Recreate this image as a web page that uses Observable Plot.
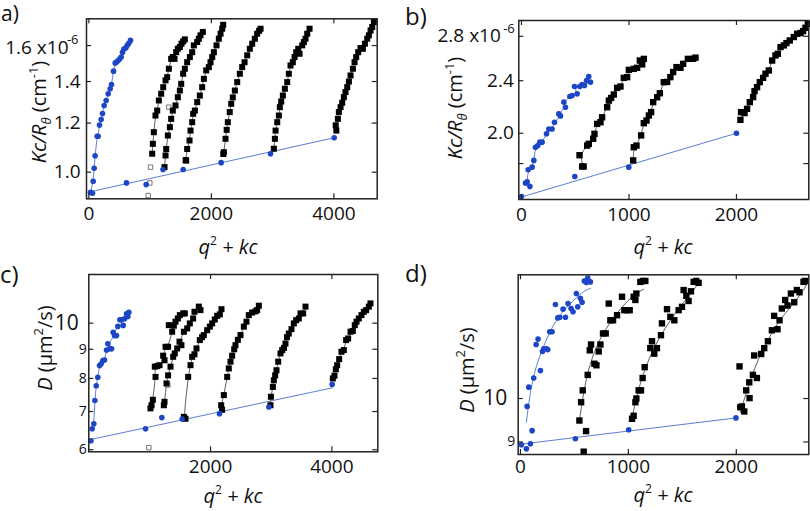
<!DOCTYPE html>
<html><head><meta charset="utf-8">
<script src="https://cdn.jsdelivr.net/npm/d3@7"></script>
<script src="https://cdn.jsdelivr.net/npm/@observablehq/plot@0.6"></script>
<style>
body{margin:0;background:#fff;}
#fig{position:relative;width:810px;height:511px;overflow:hidden;background:#fff;}
#fig svg{position:absolute;}
</style></head><body><div id="fig"></div>
<script>
// ---------- Panel a : Kc/R vs q^2+kc ----------
const aBlue = [[27,0.928],[60,0.925],[71,0.967],[87,1.015],[103,1.063],[136,1.143],[152,1.143],[174,1.191],[201,1.216],[223,1.243],[250,1.281],[283,1.305],[316,1.338],[348,1.363],[370,1.385],[403,1.455],[430,1.499],[452,1.505],[479,1.514],[506,1.523],[528,1.533],[550,1.560],[572,1.579],[604,1.585],[626,1.601],[653,1.614],[680,1.631]];
const aExtrap = [[615,0.961],[936,0.955],[1211,1.010],[1540,1.010],[2160,1.036],[2966,1.071],[4005,1.136]];
const aFitLine = [[0,0.929],[4000,1.136]];
const aHollow = [[969,0.917],[996,0.961],[1007,1.019],[1306,1.273]];
const aS1 = [[1034,1.071],[1045,1.111],[1061,1.160],[1088,1.234],[1116,1.257],[1143,1.305],[1181,1.338],[1214,1.371],[1252,1.406],[1279,1.423],[1306,1.468],[1344,1.523],[1371,1.533],[1399,1.523],[1426,1.561],[1453,1.581],[1486,1.591],[1513,1.611],[1540,1.625],[1567,1.637]];
const aS2 = [[1235,1.019],[1252,1.064],[1263,1.090],[1290,1.146],[1323,1.182],[1344,1.219],[1371,1.257],[1415,1.281],[1453,1.321],[1486,1.354],[1508,1.388],[1540,1.441],[1567,1.468],[1605,1.504],[1649,1.533],[1687,1.561],[1714,1.601],[1769,1.621],[1796,1.641],[1823,1.662],[1861,1.683]];
const aS3 = [[1580,1.046],[1589,1.044],[1605,1.090],[1644,1.125],[1660,1.167],[1687,1.204],[1703,1.242],[1731,1.257],[1769,1.297],[1812,1.329],[1850,1.371],[1878,1.414],[1916,1.459],[1959,1.477],[1986,1.504],[2014,1.533],[2041,1.561],[2084,1.601],[2122,1.641],[2150,1.672],[2177,1.703],[2193,1.728]];
const aS4 = [[2195,1.070],[2204,1.077],[2231,1.132],[2250,1.170],[2269,1.204],[2300,1.250],[2324,1.289],[2350,1.320],[2384,1.354],[2422,1.397],[2465,1.441],[2503,1.477],[2542,1.504],[2585,1.543],[2628,1.581],[2667,1.611],[2710,1.641],[2748,1.672],[2780,1.690],[2803,1.703]];
const aS5 = [[3020,1.091],[3037,1.132],[3048,1.167],[3075,1.204],[3102,1.234],[3118,1.273],[3140,1.300],[3167,1.329],[3200,1.363],[3238,1.397],[3265,1.441],[3292,1.486],[3330,1.504],[3358,1.533],[3385,1.561],[3418,1.581],[3440,1.552],[3483,1.601],[3510,1.621],[3537,1.641],[3565,1.672],[3603,1.703]];
const aS6 = [[4040,1.167],[4030,1.190],[4065,1.219],[4081,1.250],[4109,1.273],[4136,1.294],[4163,1.321],[4190,1.346],[4218,1.371],[4245,1.400],[4272,1.432],[4310,1.468],[4337,1.504],[4364,1.533],[4397,1.561],[4435,1.585],[4473,1.581],[4506,1.611],[4544,1.641],[4571,1.662],[4599,1.692],[4626,1.714],[4653,1.746]];
const aTicksX = [0,2000,4000];
const aTicksY = [1.0,1.2,1.4,1.6];
const aLabelsY = ["1.0","1.2","1.4"];
const aTopLabel = "1.6 x10", aTopExp = "-6";

// ---------- Panel b ----------
const bBlue = [[37,1.682],[53,1.690],[62,1.762],[78,1.663],[99,1.778],[115,1.820],[130,1.905],[152,1.916],[171,1.939],[192,1.939],[233,1.996],[254,2.030],[285,2.030],[307,2.078],[347,2.139],[363,2.124],[394,2.228],[409,2.189],[450,2.272],[471,2.280],[493,2.352],[518,2.293],[543,2.352],[564,2.368],[586,2.360],[605,2.401],[626,2.435],[642,2.388]];
const bExtrap = [[0,1.605],[496,1.721],[998,1.778],[2000,2.0]];
const bFitLine = [[0,1.603],[2000,2.0]];
const bS1 = [[565,1.782],[578,1.782],[540,1.853],[611,1.916],[626,1.928],[667,1.962],[679,1.996],[704,2.066],[735,2.078],[750,2.114],[797,2.189],[813,2.240],[834,2.261],[859,2.288],[890,2.341],[921,2.352],[952,2.424],[983,2.430],[999,2.492],[1045,2.501],[1076,2.510],[1101,2.574],[1123,2.540],[1138,2.589]];
const bS2 = [[1039,1.820],[1045,1.905],[1070,1.916],[1113,1.985],[1138,2.071],[1163,2.090],[1185,2.127],[1206,2.152],[1225,2.228],[1262,2.266],[1287,2.298],[1324,2.388],[1355,2.390],[1385,2.430],[1411,2.473],[1442,2.516],[1479,2.510],[1504,2.545],[1548,2.589],[1597,2.590],[1619,2.600]];
const bS3 = [[2037,2.095],[2043,2.152],[2075,2.145],[2099,2.177],[2124,2.228],[2155,2.267],[2168,2.315],[2192,2.347],[2217,2.388],[2248,2.424],[2270,2.459],[2301,2.487],[2332,2.574],[2363,2.620],[2385,2.635],[2410,2.697],[2441,2.713],[2465,2.735],[2496,2.760],[2534,2.793],[2565,2.825],[2596,2.832],[2620,2.851],[2642,2.884],[2664,2.924]];
const bTicksX = [0,1000,2000];
const bTicksY = [1.8,2.0,2.4,2.8];
const bLabelsY = ["2.0","2.4"];
const bTopLabel = "2.8 x10", bTopExp = "-6";

// ---------- Panel c : D vs q^2+kc ----------
const cBlue = [[49,6.53],[76,6.66],[93,7.32],[115,7.77],[142,8.04],[170,8.43],[197,8.49],[225,8.60],[252,8.62],[285,8.97],[307,9.20],[340,9.02],[368,9.02],[395,9.64],[417,9.51],[450,9.51],[472,9.87],[505,10.14],[532,10.14],[560,9.91],[582,10.18],[615,10.38],[637,10.27],[653,10.45]];
const cExtrap = [[28,6.22],[928,6.53],[1197,6.83],[1532,6.79],[2148,6.94],[2961,7.13],[4005,7.81]];
const cFitLine = [[15,6.25],[4000,7.70]];
const cHollow = [[983,6.05],[1296,7.79]];
const cS1 = [[1010,7.09],[1027,7.18],[1049,7.34],[1093,8.05],[1081,8.39],[1120,8.41],[1159,8.44],[1219,8.77],[1241,8.61],[1258,9.09],[1300,9.09],[1312,9.92],[1367,9.66],[1395,9.90],[1422,10.06],[1461,10.19],[1494,10.33],[1549,10.40],[1576,10.40]];
const cS2 = [[1230,7.18],[1241,7.28],[1274,7.84],[1300,8.10],[1340,8.39],[1384,8.73],[1410,8.85],[1450,9.03],[1488,9.28],[1520,9.15],[1560,9.66],[1615,9.79],[1658,9.99],[1713,10.19],[1735,10.47],[1807,10.69],[1834,10.54]];
const cS3 = [[1560,6.85],[1587,6.80],[1631,8.05],[1670,8.44],[1697,8.73],[1735,8.82],[1768,9.03],[1823,9.34],[1860,9.45],[1889,9.53],[1944,9.72],[1988,9.86],[2026,9.99],[2070,10.15],[2109,10.30],[2153,10.36],[2180,10.58]];
const cS4 = [[2190,7.05],[2175,7.18],[2219,7.48],[2274,8.05],[2301,8.33],[2329,8.56],[2356,8.77],[2390,9.00],[2411,9.15],[2450,9.35],[2494,9.53],[2549,9.86],[2592,10.06],[2631,10.33],[2686,10.44],[2741,10.49],[2768,10.54],[2796,10.73]];
const cS5 = [[2988,7.18],[2995,7.43],[3027,7.73],[3043,7.94],[3065,8.10],[3087,8.27],[3115,8.56],[3153,8.85],[3181,8.97],[3210,9.05],[3235,9.21],[3260,9.45],[3290,9.59],[3334,9.76],[3373,9.99],[3411,10.12],[3455,10.19],[3483,10.40],[3527,10.40],[3565,10.69]];
const cS6 = [[4016,8.00],[4043,8.09],[4065,8.30],[4087,8.44],[4120,8.65],[4158,8.91],[4197,8.97],[4235,9.34],[4268,9.40],[4307,9.66],[4345,9.69],[4378,9.92],[4406,10.06],[4444,10.19],[4488,10.33],[4527,10.47],[4565,10.54],[4609,10.69],[4636,10.83]];
const cTicksX = [2000,4000];
const cTicksY = [6,7,8,9,10];
const cBigTick = [10], cSmallTicks = [6,7,8,9];

// ---------- Panel d ----------
const dBlue = [[62,9.81],[77,10.28],[108,9.25],[123,10.51],[145,11.40],[163,11.55],[185,10.70],[204,11.21],[216,11.28],[240,11.28],[253,11.26],[271,11.76],[293,11.76],[324,12.56],[346,12.16],[364,12.18],[395,12.42],[417,12.18],[441,12.59],[469,12.44],[487,12.34],[518,12.90],[531,12.49],[555,12.75],[571,12.63],[592,13.30],[611,13.25],[623,13.39],[648,13.27]];
const dBlueFit = [[55,9.44],[77,9.91],[108,10.40],[148,10.84],[200,11.24],[262,11.71],[339,12.14],[432,12.49],[525,12.80],[602,13.01],[648,13.06]];
const dExtrap = [[9,8.94],[55,8.85],[92,8.96],[509,9.07],[1003,9.27],[1997,9.54]];
const dFitLine = [[0,8.95],[1997,9.54]];
const dS1 = [[546,9.48],[608,9.24],[586,8.79],[562,9.91],[577,10.20],[623,10.59],[642,11.24],[654,11.40],[685,10.88],[704,10.84],[725,11.21],[741,11.40],[765,11.71],[790,11.71],[818,12.59],[833,12.09],[858,12.09],[895,12.24],[941,12.80],[963,12.39],[987,12.39],[1012,12.39],[1049,12.80],[1065,12.70],[1074,12.90],[1111,13.27],[1136,13.30],[1157,13.30]];
const dS1Fit = [[546,9.48],[571,9.91],[602,10.40],[642,10.84],[694,11.28],[756,11.66],[833,12.04],[926,12.44],[1018,12.75],[1095,12.95],[1142,13.04]];
const dS2 = [[1034,9.52],[1049,9.59],[1065,9.91],[1074,10.00],[1095,10.20],[1117,10.20],[1132,10.51],[1151,10.79],[1203,11.30],[1219,11.49],[1240,11.15],[1265,11.30],[1302,11.66],[1311,12.00],[1358,12.42],[1389,12.19],[1426,12.09],[1466,12.39],[1497,12.49],[1512,13.01],[1537,12.83],[1558,12.67],[1580,12.97],[1605,13.27],[1629,13.30],[1651,13.24]];
const dS2Fit = [[1034,9.54],[1065,9.91],[1111,10.40],[1173,10.88],[1234,11.30],[1311,11.71],[1389,12.09],[1466,12.44],[1543,12.75],[1605,13.01],[1636,13.17]];
const dS3 = [[2037,9.79],[2052,9.81],[2074,9.69],[2092,10.20],[2120,10.40],[2123,10.01],[2030,10.81],[2154,10.59],[2191,10.51],[2166,11.10],[2231,11.14],[2259,11.30],[2293,11.49],[2330,11.80],[2351,12.22],[2382,11.83],[2401,12.09],[2422,12.44],[2453,12.70],[2475,12.53],[2506,12.90],[2537,12.63],[2561,13.01],[2586,12.94],[2623,13.27],[2638,13.30]];
const dS3Fit = [[2037,9.67],[2083,10.07],[2145,10.57],[2206,11.02],[2284,11.47],[2361,11.90],[2438,12.24],[2515,12.54],[2592,12.85],[2660,13.22]];
const dTicksX = [0,1000,2000];
const dTicksY = [9,10];
const dBigTick = [10], dSmallTicks = [9];

// ---------- drawing ----------
const FONT = "'Open Sans', 'DejaVu Sans', sans-serif";
const BLUE = "#1c46c6", LINE_BLUE = "#4a6fcc", INK = "#111";
const X = d => d[0], Y = d => d[1];
const byY = s => d3.sort(s, d => d[1]);

function panel(o) {
  const pw = o.w - o.ml - o.mr, ph = o.h - o.mt - o.mb, T = 5;
  const marks = [];
  marks.push(Plot.line(o.fitLine, {x: X, y: Y, stroke: LINE_BLUE, strokeWidth: 0.9}));
  marks.push(Plot.line(o.blueFit, {x: X, y: Y, stroke: LINE_BLUE, strokeWidth: 0.9, curve: "basis"}));
  for (const f of o.blackFits) marks.push(Plot.line(f, {x: X, y: Y, stroke: "#333", strokeWidth: 0.8, curve: "basis"}));
  marks.push(Plot.dot(o.hollow || [], {x: X, y: Y, symbol: "square", r: 2.5, fill: "white", stroke: "#555", strokeWidth: 0.8}));
  for (const s of o.black) marks.push(Plot.dot(s, {x: X, y: Y, symbol: "square", r: o.sq, fill: "#000"}));
  marks.push(Plot.dot(o.blue.concat(o.extrap), {x: X, y: Y, r: o.rc, fill: BLUE}));
  marks.push(Plot.frame({stroke: "#222", strokeWidth: 1.5}));
  const tk = {stroke: "#222", strokeWidth: 1.2};
  marks.push(Plot.tickX(o.ticksX, {x: d => d, insetTop: ph - T, ...tk}));
  marks.push(Plot.tickX(o.ticksX, {x: d => d, insetBottom: ph - T, ...tk}));
  marks.push(Plot.tickY(o.ticksY, {y: d => d, insetRight: pw - T, ...tk}));
  marks.push(Plot.tickY(o.ticksY, {y: d => d, insetLeft: pw - T, ...tk}));
  marks.push(Plot.text(o.xlabels, {x: d => d, text: d => String(d), frameAnchor: "bottom", lineAnchor: "top", dy: o.xdy, fontSize: 19, fill: INK}));
  for (const g of o.ylabels)
    marks.push(Plot.text(g.values, {y: d => d, text: (d, i) => g.texts[i], frameAnchor: "left", textAnchor: "end", dx: g.dx, dy: g.dy || 0, fontSize: g.size, fill: INK}));
  const svg = Plot.plot({
    width: o.w, height: o.h,
    marginLeft: o.ml, marginRight: o.mr, marginTop: o.mt, marginBottom: o.mb,
    x: {type: "linear", domain: o.xd, axis: null},
    y: {type: "log", domain: o.yd, axis: null},
    style: {background: "transparent", overflow: "visible", fontFamily: FONT},
    marks
  });
  svg.style.left = o.left + "px";
  svg.style.top = o.top + "px";
  for (const r of o.rich) rich(svg, r);
  document.getElementById("fig").appendChild(svg);
}

function rich(svg, r) {
  const t = d3.select(svg).append("text")
    .attr("transform", `translate(${r.x},${r.y}) rotate(${r.rotate || 0})`)
    .attr("text-anchor", r.anchor || "middle")
    .attr("font-size", r.size).attr("fill", INK)
    .attr("font-family", FONT).style("white-space", "pre");
  for (const p of r.parts) {
    const s = t.append("tspan").text(p.t);
    if (p.i) s.attr("font-style", "italic");
    if (p.s) s.attr("font-size", p.s);
    if (p.dy) s.attr("dy", p.dy);
  }
}

const qTitle = [{t: "q", i: 1}, {t: "2", s: 12, dy: -9}, {t: " + kc", i: 1, dy: 9}];
const kTitle = [{t: "Kc/R", i: 1}, {t: "θ", i: 1, s: 13, dy: 5}, {t: " (cm", dy: -5}, {t: "-1", s: 13, dy: -8}, {t: ")", dy: 8}];
const dTitle = [{t: "D", i: 1}, {t: " (μm"}, {t: "2", s: 13, dy: -9}, {t: "/s)", dy: 9}];

panel({
  left: 0, top: 0, w: 405, h: 262, ml: 86, mr: 28.3, mt: 18.3, mb: 63.7,
  xd: [-38, 4707], yd: [0.906, 1.767], sq: 3.4, rc: 2.8,
  fitLine: aFitLine, blueFit: byY(aBlue), blue: aBlue, extrap: aExtrap, hollow: aHollow,
  black: [aS1, aS2, aS3, aS4, aS5, aS6], blackFits: [aS1, aS2, aS3, aS4, aS5, aS6].map(byY),
  ticksX: aTicksX, ticksY: aTicksY, xlabels: aTicksX, xdy: 8,
  ylabels: [
    {values: aTicksY.slice(0, 3), texts: aLabelsY, dx: -6, size: 19},
    {values: [aTicksY[3]], texts: [aTopLabel], dx: -18, dy: 2, size: 19},
    {values: [aTicksY[3]], texts: [aTopExp], dx: -8, dy: -6, size: 13}
  ],
  rich: [
    {x: 1, y: 21, anchor: "start", size: 21, parts: [{t: "a)"}]},
    {x: 46, y: 112, rotate: -90, size: 20, parts: kTitle},
    {x: 228, y: 254, size: 20, parts: qTitle}
  ]
});

panel({
  left: 405, top: 0, w: 405, h: 262, ml: 113.3, mr: 1.7, mt: 20, mb: 63,
  xd: [-25, 2673], yd: [1.589, 2.958], sq: 3.6, rc: 2.8,
  fitLine: bFitLine, blueFit: byY(bBlue), blue: bBlue, extrap: bExtrap, hollow: [],
  black: [bS1, bS2, bS3], blackFits: [bS1, bS2, bS3].map(byY),
  ticksX: bTicksX, ticksY: bTicksY, xlabels: bTicksX, xdy: 8,
  ylabels: [
    {values: [2.0, 2.4], texts: bLabelsY, dx: -5, size: 19},
    {values: [2.8], texts: [bTopLabel], dx: -18, dy: 0, size: 19},
    {values: [2.8], texts: [bTopExp], dx: -4, dy: -7, size: 13}
  ],
  rich: [
    {x: 0, y: 25, anchor: "start", size: 24, parts: [{t: "b)"}]},
    {x: 57, y: 108, rotate: -90, size: 20, parts: kTitle},
    {x: 258, y: 254, size: 20, parts: qTitle}
  ]
});

panel({
  left: 0, top: 262, w: 405, h: 249, ml: 88.3, mr: 27.7, mt: 12, mb: 59.7,
  xd: [-7, 4757], yd: [5.95, 12.17], sq: 3.4, rc: 2.8,
  fitLine: cFitLine, blueFit: byY(cBlue), blue: cBlue, extrap: cExtrap, hollow: cHollow,
  black: [cS1, cS2, cS3, cS4, cS5, cS6], blackFits: [cS1, cS2, cS3, cS4, cS5, cS6].map(byY),
  ticksX: cTicksX, ticksY: cTicksY, xlabels: cTicksX, xdy: 8,
  ylabels: [
    {values: cBigTick, texts: cBigTick.map(String), dx: -10, size: 21},
    {values: cSmallTicks, texts: cSmallTicks.map(String), dx: -2, size: 14}
  ],
  rich: [
    {x: 0, y: 21, anchor: "start", size: 24, parts: [{t: "c)"}]},
    {x: 52, y: 86, rotate: -90, size: 20, parts: dTitle},
    {x: 233, y: 241, size: 20, parts: qTitle}
  ]
});

panel({
  left: 405, top: 262, w: 405, h: 249, ml: 112.7, mr: 1.7, mt: 12.3, mb: 57,
  xd: [-21, 2672], yd: [8.73, 13.5], sq: 3.6, rc: 2.8,
  fitLine: dFitLine, blueFit: dBlueFit, blue: dBlue, extrap: dExtrap, hollow: [],
  black: [dS1, dS2, dS3], blackFits: [dS1Fit, dS2Fit, dS3Fit],
  ticksX: dTicksX, ticksY: dTicksY, xlabels: dTicksX, xdy: 5,
  ylabels: [
    {values: dBigTick, texts: dBigTick.map(String), dx: -11, size: 21},
    {values: dSmallTicks, texts: dSmallTicks.map(String), dx: -3, size: 14}
  ],
  rich: [
    {x: 0, y: 20, anchor: "start", size: 24, parts: [{t: "d)"}]},
    {x: 69, y: 108, rotate: -90, size: 20, parts: dTitle},
    {x: 258, y: 240, size: 20, parts: qTitle}
  ]
});
</script></body></html>
